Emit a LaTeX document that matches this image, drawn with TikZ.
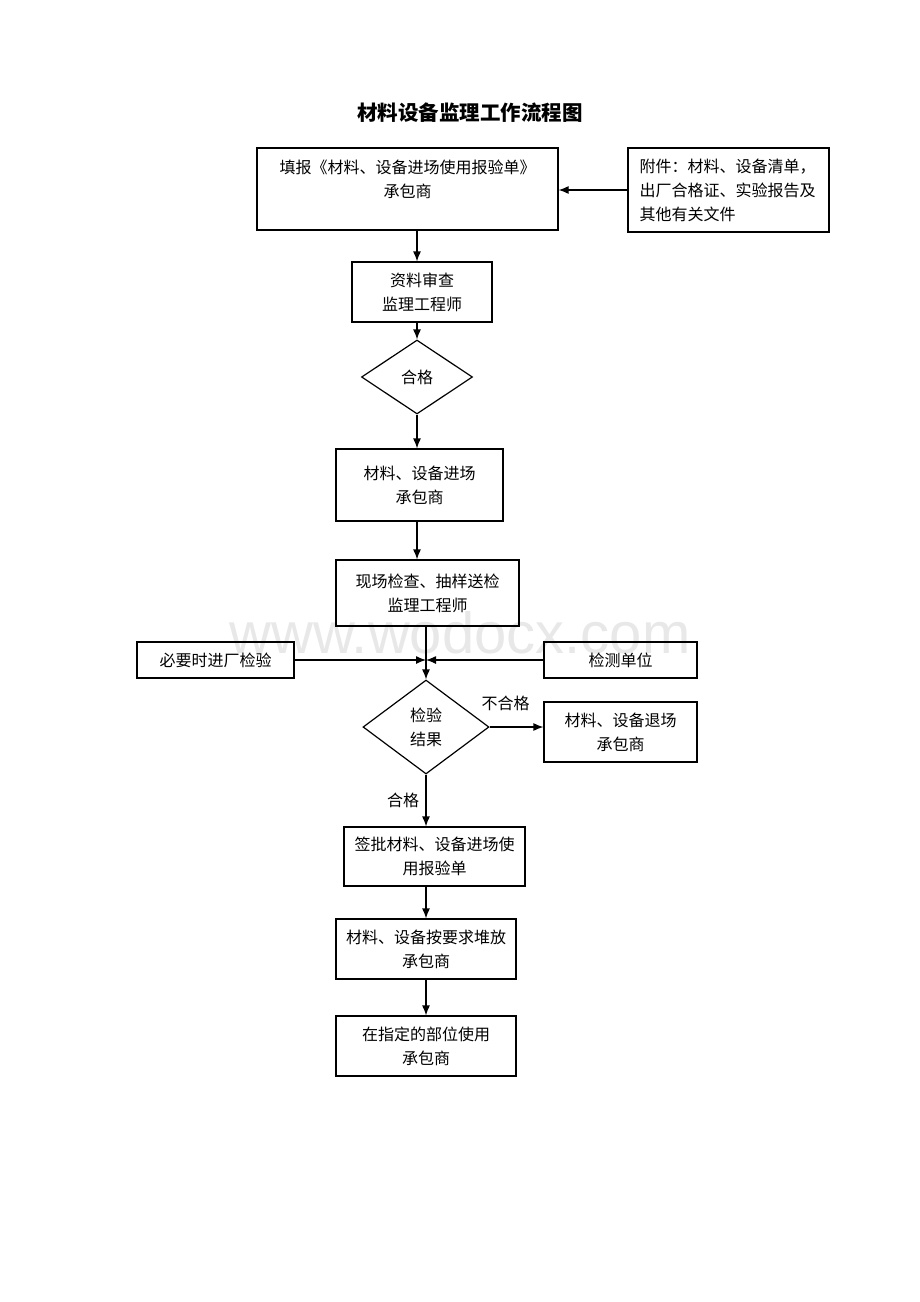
\documentclass[tikz,border=0pt]{standalone}
\usepackage{fontspec}
\newfontfamily\cjk{Noto Sans CJK SC}
\usetikzlibrary{shapes.geometric,arrows.meta}
\tikzset{
  box/.style={draw, line width=1.2pt, align=center, inner sep=0pt},
  decide/.style={draw, diamond, line width=1.2pt, align=center, inner sep=0pt},
  arr/.style={->, line width=1.2pt}
}
\begin{document}
\begin{tikzpicture}[x=1pt,y=-1pt,>={Latex[length=10pt,width=8pt]},
  every node/.style={font=\cjk\fontsize{16}{24}\selectfont}]
      \useasboundingbox (0,0) rectangle (920,1302);
      \node[text=black!9, font=\fontspec{Liberation Sans}\fontsize{58}{58}\selectfont] (mark) at (460,633) {www.wodocx.com};
      \node[font=\cjk\bfseries\fontsize{20.5}{24}\selectfont] (title) at (470,113) {材料设备监理工作流程图};
      \node[box, minimum width=301, minimum height=82] (fill) at (407.5,189) {};
      \node[align=center] (filltext) at (407.5,179) {填报《材料、设备进场使用报验单》\\承包商};
      \node[box, minimum width=201, minimum height=84, text width=178, align=left] (attach) at (728.5,190) {附件：材料、设备清单，\\出厂合格证、实验报告及\\其他有关文件};
      \node[box, minimum width=140, minimum height=60] (review) at (422,292) {资料审查\\监理工程师};
      \node[decide, minimum width=111, minimum height=74] (pass) at (417,377) {合格};
      \node[box, minimum width=167, minimum height=72] (enter) at (419.5,485) {材料、设备进场\\承包商};
      \node[box, minimum width=183, minimum height=66] (check) at (427.5,593) {现场检查、抽样送检\\监理工程师};
      \node[box, minimum width=157, minimum height=36] (factory) at (215.5,660) {必要时进厂检验};
      \node[box, minimum width=153, minimum height=36] (lab) at (620.5,660) {检测单位};
      \node[decide, minimum width=126, minimum height=94] (result) at (426,727) {检验\\结果};
      \node[box, minimum width=153, minimum height=60] (reject) at (620.5,732) {材料、设备退场\\承包商};
      \node[box, minimum width=181, minimum height=59] (sign) at (434.5,856.5) {签批材料、设备进场使\\用报验单};
      \node[box, minimum width=180, minimum height=60] (stack) at (426,949) {材料、设备按要求堆放\\承包商};
      \node[box, minimum width=180, minimum height=60] (use) at (426,1046) {在指定的部位使用\\承包商};

      \draw[arr] (attach.west) -- (attach.west -| fill.east);
      \draw[arr] (fill.south -| pass) -- (review.north -| pass);
      \draw[arr] (review.south -| pass) -- (pass.north);
      \draw[arr] (pass.south) -- (enter.north -| pass);
      \draw[arr] (enter.south -| pass) -- (check.north -| pass);
      \draw[arr] (check.south -| result) -- (result.north);
      \draw[arr] (factory.east) -- (factory.east -| result.north);
      \draw[arr] (lab.west) -- (lab.west -| result.north);
      \draw[arr] (result.east) -- (result.east -| reject.west) node[pos=0.3, above=12pt] {不合格};
      \draw[arr] (result.south) -- (result.south |- sign.north) node[midway, left=3pt] {合格};
      \draw[arr] (sign.south -| stack) -- (stack.north);
      \draw[arr] (stack.south) -- (use.north);
\end{tikzpicture}
\end{document}
